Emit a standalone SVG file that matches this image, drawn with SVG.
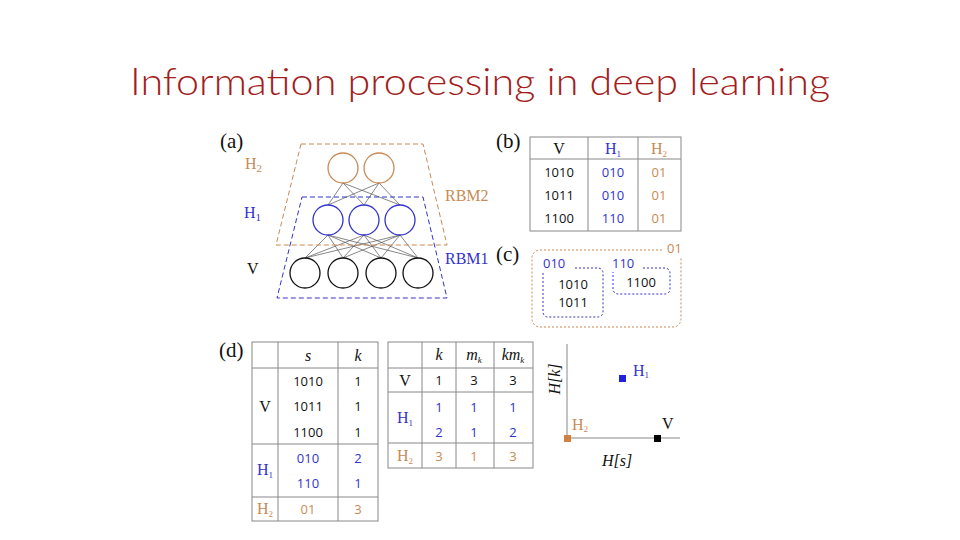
<svg xmlns="http://www.w3.org/2000/svg" width="960" height="540" viewBox="0 0 960 540">
<style>
.t{font-family:"Liberation Serif",serif;font-size:16px;fill:#111}
.s{font-family:"Open Sans","Liberation Sans",sans-serif;font-size:13px;fill:#111}
.o{fill:#c98a55}.b{fill:#3333cc}
.oc{fill:none;stroke:#c98a55;stroke-width:1.3}.bc{fill:none;stroke:#3333cc;stroke-width:1.3}.kc{fill:none;stroke:#111;stroke-width:1.3}
.w{stroke:#555;stroke-width:0.7}
.grid{stroke:#888;stroke-width:1;fill:none}
.lb{font-size:21px}
</style>
<rect width="960" height="540" fill="#fff"/>
<text x="480" y="95" text-anchor="middle" font-family="Lato,'Open Sans',sans-serif" font-weight="300" font-size="38" fill="#a31d1d" textLength="700" lengthAdjust="spacingAndGlyphs">Information processing in deep learning</text>
<g id="panel-a">
<text class="t lb" x="220" y="148">(a)</text>
<g id="connectors">
<g class="w">
<line x1="343" y1="183" x2="328" y2="205"/><line x1="343" y1="183" x2="364" y2="205"/><line x1="343" y1="183" x2="400" y2="205"/>
<line x1="379" y1="183" x2="328" y2="205"/><line x1="379" y1="183" x2="364" y2="205"/><line x1="379" y1="183" x2="400" y2="205"/>
<line x1="328" y1="235" x2="305" y2="258"/><line x1="328" y1="235" x2="343" y2="258"/><line x1="328" y1="235" x2="381" y2="258"/><line x1="328" y1="235" x2="418" y2="258"/>
<line x1="364" y1="235" x2="305" y2="258"/><line x1="364" y1="235" x2="343" y2="258"/><line x1="364" y1="235" x2="381" y2="258"/><line x1="364" y1="235" x2="418" y2="258"/>
<line x1="400" y1="235" x2="305" y2="258"/><line x1="400" y1="235" x2="343" y2="258"/><line x1="400" y1="235" x2="381" y2="258"/><line x1="400" y1="235" x2="418" y2="258"/>
</g>
</g>
<polygon points="301,144 423,144 447,245 276,245" fill="none" stroke="#c98a55" stroke-dasharray="5,3"/>
<polygon points="302,197 423,197 447,298 277,298" fill="none" stroke="#3333cc" stroke-dasharray="5,3"/>
<g id="h2"><circle class="oc" cx="343" cy="168" r="15"/><circle class="oc" cx="379" cy="168" r="15"/></g>
<g id="h1"><circle class="bc" cx="328" cy="220" r="15"/><circle class="bc" cx="364" cy="220" r="15"/><circle class="bc" cx="400" cy="220" r="15"/></g>
<g id="v"><circle class="kc" cx="305" cy="273" r="15"/><circle class="kc" cx="343" cy="273" r="15"/><circle class="kc" cx="381" cy="273" r="15"/><circle class="kc" cx="418" cy="273" r="15"/></g>
<text class="t o" x="245" y="169" font-size="17">H<tspan font-size="11" dy="3">2</tspan></text>
<text class="t b" x="244" y="218" font-size="17">H<tspan font-size="11" dy="3">1</tspan></text>
<text class="t" x="247" y="274" font-size="17">V</text>
<text class="t o" x="445" y="201" font-size="17">RBM2</text>
<text class="t b" x="445" y="264" font-size="17">RBM1</text>
</g>
<g id="panel-b">
<text class="t lb" x="496" y="148">(b)</text>
<rect class="grid" x="530" y="137" width="151" height="94"/>
<line class="grid" x1="588" y1="137" x2="588" y2="231"/><line class="grid" x1="638" y1="137" x2="638" y2="231"/><line class="grid" x1="530" y1="159" x2="681" y2="159"/>
<g text-anchor="middle">
<text class="t" x="559" y="154">V</text><text class="t b" x="613" y="154">H<tspan font-size="9" dy="3">1</tspan></text><text class="t o" x="659" y="154">H<tspan font-size="9" dy="3">2</tspan></text>
<text class="s" x="559" y="177">1010</text><text class="s b" x="613" y="177">010</text><text class="s o" x="659" y="177">01</text>
<text class="s" x="559" y="200">1011</text><text class="s b" x="613" y="200">010</text><text class="s o" x="659" y="200">01</text>
<text class="s" x="559" y="223">1100</text><text class="s b" x="613" y="223">110</text><text class="s o" x="659" y="223">01</text>
</g>
</g>
<g id="panel-c">
<text class="t lb" x="496" y="261">(c)</text>
<path d="M662,250 H540 a8,8 0 0 0 -8,8 V319 a8,8 0 0 0 8,8 H673 a8,8 0 0 0 8,-8 V258" fill="none" stroke="#c98a55" stroke-dasharray="2,2"/>
<text class="s o" x="667" y="253">01</text>
<path d="M575,268 H598 a5,5 0 0 1 5,5 V312 a5,5 0 0 1 -5,5 H548 a5,5 0 0 1 -5,-5 V272" fill="none" stroke="#3333cc" stroke-dasharray="2,2"/>
<text class="s b" x="543" y="268">010</text>
<path d="M643,268 H665 a5,5 0 0 1 5,5 V289 a5,5 0 0 1 -5,5 H618 a5,5 0 0 1 -5,-5 V272" fill="none" stroke="#3333cc" stroke-dasharray="2,2"/>
<text class="s b" x="612" y="268">110</text>
<text class="s" x="573" y="289" text-anchor="middle">1010</text>
<text class="s" x="573" y="307" text-anchor="middle">1011</text>
<text class="s" x="641" y="287" text-anchor="middle">1100</text>
</g>
<g id="panel-d">
<text class="t lb" x="219" y="357">(d)</text>
<rect class="grid" x="252" y="342" width="126" height="179"/>
<line class="grid" x1="278" y1="342" x2="278" y2="521"/><line class="grid" x1="338" y1="342" x2="338" y2="521"/>
<line class="grid" x1="252" y1="368" x2="378" y2="368"/><line class="grid" x1="252" y1="444" x2="378" y2="444"/><line class="grid" x1="252" y1="497" x2="378" y2="497"/>
<g text-anchor="middle">
<text class="t" x="308" y="361" font-style="italic">s</text><text class="t" x="358" y="361" font-style="italic">k</text>
<text class="t" x="265" y="412">V</text>
<text class="t b" x="265" y="475">H<tspan font-size="9" dy="3">1</tspan></text>
<text class="t o" x="265" y="514">H<tspan font-size="9" dy="3">2</tspan></text>
<text class="s" x="308" y="386">1010</text><text class="s" x="358" y="386">1</text>
<text class="s" x="308" y="411">1011</text><text class="s" x="358" y="411">1</text>
<text class="s" x="308" y="437">1100</text><text class="s" x="358" y="437">1</text>
<text class="s b" x="308" y="463">010</text><text class="s b" x="358" y="463">2</text>
<text class="s b" x="308" y="488">110</text><text class="s b" x="358" y="488">1</text>
<text class="s o" x="308" y="514">01</text><text class="s o" x="358" y="514">3</text>
</g>
<rect class="grid" x="388" y="342" width="145" height="126"/>
<line class="grid" x1="422" y1="342" x2="422" y2="468"/><line class="grid" x1="456" y1="342" x2="456" y2="468"/><line class="grid" x1="494" y1="342" x2="494" y2="468"/>
<line class="grid" x1="388" y1="368" x2="533" y2="368"/><line class="grid" x1="388" y1="392" x2="533" y2="392"/><line class="grid" x1="388" y1="443" x2="533" y2="443"/>
<g text-anchor="middle">
<text class="t" x="439" y="360" font-style="italic">k</text>
<text class="t" x="474" y="360" font-style="italic">m<tspan font-size="9" dy="3">k</tspan></text>
<text class="t" x="513" y="360" font-style="italic">km<tspan font-size="9" dy="3">k</tspan></text>
<text class="t" x="405" y="386">V</text>
<text class="t b" x="405" y="423">H<tspan font-size="9" dy="3">1</tspan></text>
<text class="t o" x="405" y="461">H<tspan font-size="9" dy="3">2</tspan></text>
<text class="s" x="439" y="385">1</text><text class="s" x="474" y="385">3</text><text class="s" x="513" y="385">3</text>
<text class="s b" x="439" y="412">1</text><text class="s b" x="474" y="412">1</text><text class="s b" x="513" y="412">1</text>
<text class="s b" x="439" y="437">2</text><text class="s b" x="474" y="437">1</text><text class="s b" x="513" y="437">2</text>
<text class="s o" x="439" y="461">3</text><text class="s o" x="474" y="461">1</text><text class="s o" x="513" y="461">3</text>
</g>
<line x1="567" y1="344" x2="567" y2="438" stroke="#888"/>
<line x1="567" y1="438" x2="680" y2="438" stroke="#888"/>
<rect x="619" y="375" width="7" height="7" fill="#2222dd"/>
<rect x="564" y="435" width="7" height="7" fill="#d08040"/>
<rect x="654" y="435" width="7" height="7" fill="#000"/>
<text class="t b" x="633" y="376" font-size="14">H<tspan font-size="9" dy="2">1</tspan></text>
<text class="t o" x="572" y="430" font-size="14">H<tspan font-size="9" dy="2">2</tspan></text>
<text class="t" x="662" y="429" font-size="15">V</text>
<text class="t" x="0" y="0" font-size="15" font-style="italic" transform="translate(560,379) rotate(-90)" text-anchor="middle">H[k]</text>
<text class="t" x="617" y="466" font-size="15" font-style="italic" text-anchor="middle">H[s]</text>
</g>
</svg>
